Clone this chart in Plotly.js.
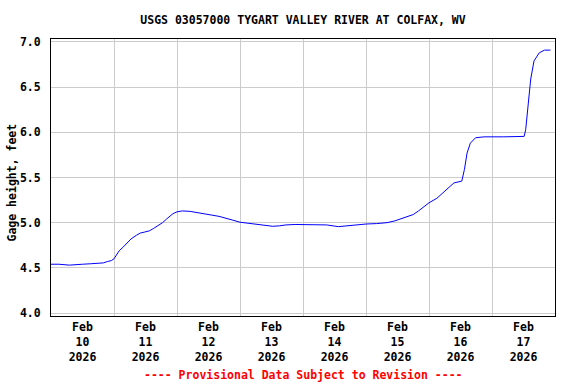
<!DOCTYPE html>
<html>
<head>
<meta charset="utf-8">
<script src="https://cdn.plot.ly/plotly-3.0.1.min.js"></script>
<style>html,body{margin:0;padding:0;background:#fff;}#chart{width:576px;height:384px;}</style>
</head>
<body>
<div id="chart"></div>
<script>
var titleText = "USGS 03057000 TYGART VALLEY RIVER AT COLFAX, WV";
var yLabel = "Gage height, feet";
var footerText = "---- Provisional Data Subject to Revision ----";

var times = [
"2026-02-10 00:00","2026-02-10 03:00","2026-02-10 07:00","2026-02-10 10:00","2026-02-10 12:00",
"2026-02-10 15:00","2026-02-10 18:30","2026-02-10 20:00","2026-02-10 21:30","2026-02-10 23:00",
"2026-02-11 00:00","2026-02-11 01:00","2026-02-11 02:00","2026-02-11 03:30","2026-02-11 04:30",
"2026-02-11 06:30","2026-02-11 08:30","2026-02-11 10:00","2026-02-11 11:30","2026-02-11 13:30",
"2026-02-11 15:00","2026-02-11 16:30","2026-02-11 18:30","2026-02-11 20:00","2026-02-11 21:30",
"2026-02-11 22:30","2026-02-12 00:00","2026-02-12 02:00","2026-02-12 05:00","2026-02-12 07:30",
"2026-02-12 10:00","2026-02-12 13:00","2026-02-12 16:00","2026-02-12 19:00","2026-02-12 21:00",
"2026-02-13 00:00","2026-02-13 04:30","2026-02-13 08:00","2026-02-13 12:30","2026-02-13 15:00",
"2026-02-13 17:30","2026-02-13 21:00","2026-02-14 00:00","2026-02-14 05:00","2026-02-14 09:00",
"2026-02-14 13:30","2026-02-14 17:00","2026-02-14 20:30","2026-02-15 00:00","2026-02-15 04:00",
"2026-02-15 08:00","2026-02-15 11:00","2026-02-15 13:00","2026-02-15 16:00","2026-02-15 18:00",
"2026-02-15 20:00","2026-02-15 22:00","2026-02-16 00:00","2026-02-16 03:00","2026-02-16 05:00",
"2026-02-16 07:00","2026-02-16 09:30","2026-02-16 12:30","2026-02-16 13:30","2026-02-16 14:30",
"2026-02-16 15:45","2026-02-16 17:45","2026-02-16 21:00","2026-02-17 04:30","2026-02-17 12:15",
"2026-02-17 12:50","2026-02-17 13:45","2026-02-17 14:45","2026-02-17 16:00","2026-02-17 18:00",
"2026-02-17 20:00","2026-02-17 22:15"
];
var gageHeight = [
4.54,4.54,4.53,4.54,4.54,
4.545,4.55,4.555,4.57,4.58,
4.60,4.64,4.69,4.73,4.76,
4.82,4.86,4.885,4.895,4.91,
4.935,4.96,5.00,5.04,5.08,
5.10,5.12,5.13,5.125,5.115,
5.10,5.085,5.07,5.05,5.03,
5.005,4.99,4.98,4.96,4.965,
4.975,4.98,4.98,4.98,4.975,
4.956,4.965,4.98,4.985,4.99,
5.00,5.02,5.04,5.065,5.09,
5.13,5.18,5.22,5.27,5.32,
5.38,5.44,5.46,5.59,5.77,
5.88,5.94,5.95,5.95,5.955,
6.03,6.29,6.59,6.79,6.88,
6.91,6.91
];
var yTicks = [4.0,4.5,5.0,5.5,6.0,6.5,7.0];
var yTickText = ["4.0","4.5","5.0","5.5","6.0","6.5","7.0"];

var fontFam = "DejaVu Sans Mono, Liberation Mono, monospace";
var baseFont = {family: fontFam, size: 11.5, color: "#000", weight: "bold"};

var trace = {
  x: times, y: gageHeight, type: "scatter", mode: "lines",
  line: {color: "#0000ff", width: 1}, hoverinfo: "skip", showlegend: false
};

var layout = {
  width: 576, height: 384,
  margin: {l: 51, r: 21, t: 39, b: 68, pad: 0},
  paper_bgcolor: "#fff", plot_bgcolor: "#fff",
  font: baseFont,
  showlegend: false,
  title: {
    text: titleText, font: baseFont,
    xref: "paper", x: 0.5, xanchor: "center",
    yref: "container", y: 1 - 20/384, yanchor: "middle"
  },
  xaxis: {
    type: "date",
    range: ["2026-02-10 00:00", "2026-02-18 00:00"],
    tick0: "2026-02-10", dtick: 86400000,
    tickformat: "%b<br>%d<br>%Y",
    ticklabelmode: "period",
    ticks: "", showgrid: true, gridcolor: "#cccccc", gridwidth: 1,
    showline: true, linecolor: "#000", linewidth: 1, mirror: true,
    zeroline: false, tickfont: baseFont, fixedrange: true
  },
  yaxis: {
    range: [3.967, 7.033],
    tickvals: yTicks, ticktext: yTickText,
    ticks: "", ticklabelstandoff: 7,
    showgrid: true, gridcolor: "#cccccc", gridwidth: 1,
    showline: true, linecolor: "#000", linewidth: 1, mirror: true,
    zeroline: false, tickfont: baseFont, fixedrange: true
  },
  annotations: [
    {
      text: yLabel, textangle: -90, showarrow: false,
      xref: "paper", yref: "paper",
      x: (11 - 51) / 504, y: (316 - 182.5) / 277,
      xanchor: "center", yanchor: "middle", font: baseFont
    },
    {
      text: footerText, showarrow: false,
      xref: "paper", yref: "paper",
      x: 0.5, y: (316 - 375) / 277,
      xanchor: "center", yanchor: "middle",
      font: {family: fontFam, size: 11.5, color: "#ff0000", weight: "bold"}
    }
  ]
};

Plotly.newPlot("chart", [trace], layout, {staticPlot: true, displayModeBar: false});
</script>
</body>
</html>
